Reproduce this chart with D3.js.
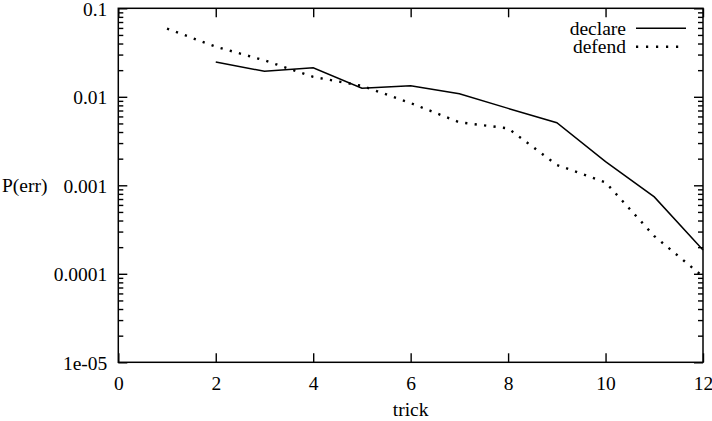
<!DOCTYPE html>
<html>
<head>
<meta charset="utf-8">
<script src="https://cdn.jsdelivr.net/npm/d3@7"></script>
</head>
<body style="margin:0;background:#fff">
<div id="chart"></div>
<script>
// values
const declareTricks = [2, 3, 4, 5, 6, 7, 8, 9, 10, 11, 12];
const declareErr = [0.0247, 0.0194, 0.0213, 0.0125, 0.0133, 0.0108, 0.0074, 0.0051, 0.00185, 0.00074, 0.000186];
const defendTricks = [1, 2, 3, 4, 5, 6, 7, 8, 9, 10, 11, 12];
const defendErr = [0.059, 0.0368, 0.0258, 0.0168, 0.0133, 0.0085, 0.00515, 0.0044, 0.0017, 0.00108, 0.000267, 0.000093];

const xTicks = [0, 2, 4, 6, 8, 10, 12];
const yTicks = [0.1, 0.01, 0.001, 0.0001, 0.00001];
const yTickLabels = ['0.1', '0.01', '0.001', '0.0001', '1e-05'];
const seriesNames = ['declare', 'defend'];

const width = 712;
const height = 421;
const margin = {top: 8.3, right: 9, bottom: 58.7, left: 118.3};
const font = 'Liberation Serif';
const fontSize = 19.5;

const svg = d3.select('#chart')
  .append('svg')
  .attr('width', width)
  .attr('height', height)
  .attr('font-family', font)
  .attr('font-size', fontSize);

const x = d3.scaleLinear()
  .domain([0, 12])
  .range([margin.left, width - margin.right]);

const y = d3.scaleLog()
  .domain([1e-5, 0.1])
  .range([height - margin.bottom, margin.top]);

// minor ticks 2..9 within each decade
const minorTicks = [];
for (let e = -5; e < -1; e++) {
  for (let m = 2; m <= 9; m++) minorTicks.push(m * Math.pow(10, e));
}

const labelOf = d => yTickLabels[yTicks.indexOf(d)];

function styleAxis(g) {
  g.attr('font-family', font).attr('font-size', fontSize);
  g.select('.domain').remove();
  g.selectAll('line').attr('stroke', '#000').attr('stroke-width', 1.4);
  g.selectAll('text')
    .attr('fill', '#000')
    .attr('font-family', font)
    .attr('font-size', fontSize);
}

// left axis
svg.append('g')
  .attr('transform', `translate(${x(0)},0)`)
  .call(d3.axisLeft(y).tickValues(yTicks).tickSize(-9).tickPadding(11).tickFormat(labelOf))
  .call(styleAxis)
  .selectAll('text').attr('dy', '0.36em');

svg.append('g')
  .attr('transform', `translate(${x(0)},0)`)
  .call(d3.axisLeft(y).tickValues(minorTicks).tickSize(-5).tickFormat(''))
  .call(styleAxis);

// right axis (mirror)
svg.append('g')
  .attr('transform', `translate(${x(12)},0)`)
  .call(d3.axisRight(y).tickValues(yTicks).tickSize(-9).tickFormat(''))
  .call(styleAxis);

svg.append('g')
  .attr('transform', `translate(${x(12)},0)`)
  .call(d3.axisRight(y).tickValues(minorTicks).tickSize(-5).tickFormat(''))
  .call(styleAxis);

// bottom axis
svg.append('g')
  .attr('transform', `translate(0,${y(1e-5)})`)
  .call(d3.axisBottom(x).tickValues(xTicks).tickSize(-9).tickPadding(14).tickFormat(d3.format('d')))
  .call(styleAxis)
  .selectAll('text').attr('dy', '0.72em');

// top axis (mirror)
svg.append('g')
  .attr('transform', `translate(0,${y(0.1)})`)
  .call(d3.axisTop(x).tickValues(xTicks).tickSize(-9).tickFormat(''))
  .call(styleAxis);

// frame
svg.append('rect')
  .attr('x', x(0))
  .attr('y', y(0.1))
  .attr('width', x(12) - x(0))
  .attr('height', y(1e-5) - y(0.1))
  .attr('fill', 'none')
  .attr('stroke', '#000')
  .attr('stroke-width', 1.5);

// axis titles
svg.append('text')
  .attr('x', (x(0) + x(12)) / 2)
  .attr('y', 416)
  .attr('text-anchor', 'middle')
  .attr('font-family', font)
  .attr('font-size', fontSize)
  .text('trick');

svg.append('text')
  .attr('x', 2)
  .attr('y', y(0.001))
  .attr('dy', '0.36em')
  .attr('font-family', font)
  .attr('font-size', fontSize)
  .text('P(err)');

const line = d3.line()
  .x(d => x(d[0]))
  .y(d => y(d[1]));

svg.append('path')
  .datum(declareTricks.map((t, i) => [t, declareErr[i]]))
  .attr('fill', 'none')
  .attr('stroke', '#000')
  .attr('stroke-width', 1.5)
  .attr('d', line);

svg.append('path')
  .datum(defendTricks.map((t, i) => [t, defendErr[i]]))
  .attr('fill', 'none')
  .attr('stroke', '#000')
  .attr('stroke-width', 2.4)
  .attr('stroke-dasharray', '2.2 7.3')
  .attr('d', line);

// legend
const legend = svg.append('g');
const legendRows = [
  {name: seriesNames[0], y: 28.3, dash: null, w: 1.5},
  {name: seriesNames[1], y: 46.7, dash: '2.2 7.8', w: 2.4}
];
legendRows.forEach(r => {
  legend.append('text')
    .attr('x', 626)
    .attr('y', r.y)
    .attr('dy', '0.32em')
    .attr('text-anchor', 'end')
    .attr('font-family', font)
    .attr('font-size', fontSize)
    .text(r.name);
  legend.append('line')
    .attr('x1', 636)
    .attr('x2', 686)
    .attr('y1', r.y)
    .attr('y2', r.y)
    .attr('stroke', '#000')
    .attr('stroke-width', r.w)
    .attr('stroke-dasharray', r.dash);
});
</script>
</body>
</html>
